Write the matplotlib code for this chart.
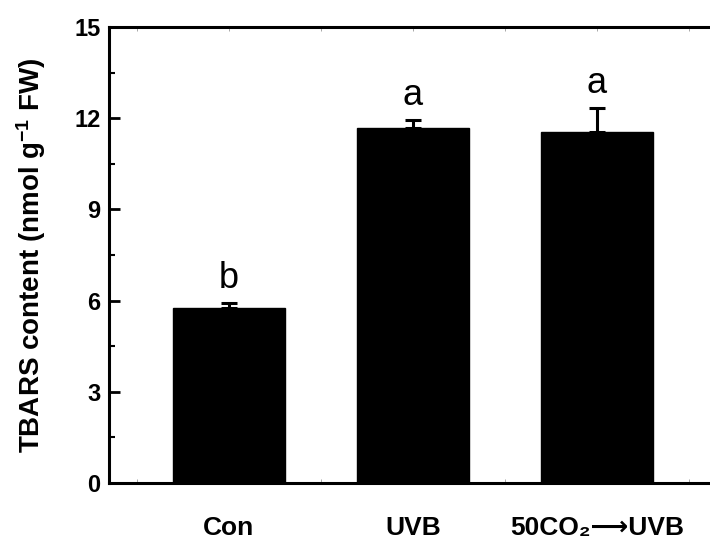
import matplotlib
matplotlib.use("Agg")
import matplotlib.pyplot as plt
from matplotlib.ticker import MultipleLocator

plt.rcParams["font.family"] = ["Liberation Sans", "DejaVu Sans"]
plt.rcParams["mathtext.fontset"] = "custom"
plt.rcParams["mathtext.rm"] = "Liberation Sans"
plt.rcParams["mathtext.bf"] = "Liberation Sans:bold"

# data
groups = ["Con", "UVB", "50CO\u2082\u27f6UVB"]
means = [5.74, 11.67, 11.54]
errs = [0.18, 0.28, 0.79]
letters = ["b", "a", "a"]
xpos = [1, 2, 3]

fig = plt.figure(figsize=(7.1, 5.4), dpi=100)
ax = fig.add_axes([0.1535, 0.1056, 0.8465, 0.8444])

ax.bar(xpos, means, width=0.61, color="black", edgecolor="black", zorder=2)
ax.errorbar(xpos, means, yerr=[[0] * 3, errs], fmt="none", ecolor="black",
            elinewidth=2.2, capsize=6, capthick=2.2, zorder=3)
for x, m, e, t in zip(xpos, means, errs, letters):
    ax.text(x, m + e + 0.5, t, ha="center", va="baseline", fontsize=26)

ax.set_xlim(0.348, 3.614)
ax.set_ylim(0, 15)
ax.yaxis.set_major_locator(MultipleLocator(3))
ax.yaxis.set_minor_locator(MultipleLocator(1.5))
ax.set_xticks(xpos)
ax.set_xticklabels(groups, fontsize=19, fontweight="bold")
ax.xaxis.set_minor_locator(MultipleLocator(0.5))
ax.tick_params(axis="x", which="both", direction="in", length=3, width=0.6,
               color="#999999", top=True, pad=23.5)
ax.tick_params(axis="y", which="major", direction="in", length=8, width=2,
               labelsize=17, pad=6)
ax.tick_params(axis="y", which="minor", direction="in", length=4, width=1.5)
for lab in ax.get_yticklabels():
    lab.set_fontweight("bold")

for s in ["left", "bottom", "top"]:
    ax.spines[s].set_linewidth(2.2)
ax.spines["right"].set_visible(False)

ax.set_ylabel("TBARS content (nmol g$\\mathbf{^{-1}}$ FW)", fontsize=20,
              fontweight="bold", labelpad=19)

fig.savefig("out.png", dpi=100)
